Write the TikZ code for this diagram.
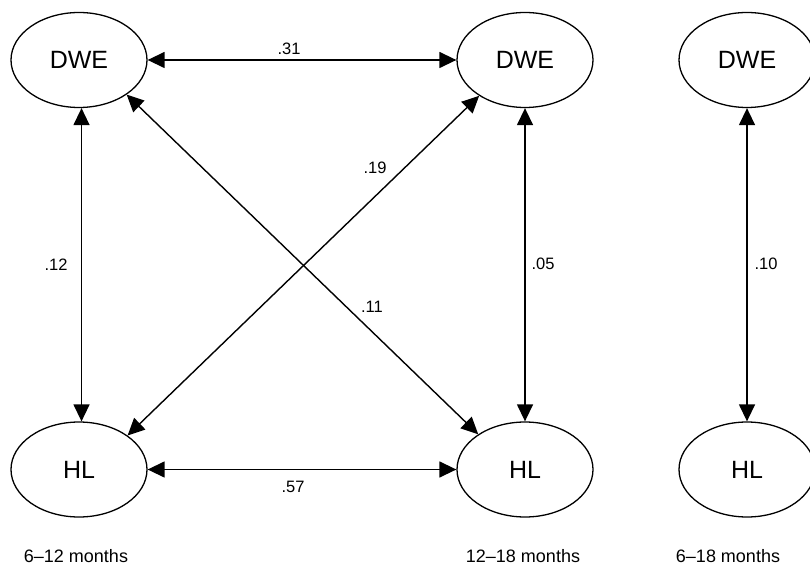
\documentclass[tikz,border=0pt]{standalone}
\usepackage{fontspec}
\setmainfont{Liberation Sans}
\usetikzlibrary{shapes.geometric,arrows.meta}
\begin{document}
\begin{tikzpicture}[x=1pt,y=1pt,
  var/.style={draw,ellipse,line width=1.3pt,minimum width=136pt,minimum height=95pt,inner sep=0pt,font=\fontsize{25}{25}\selectfont},
  link/.style={line width=1.4pt,{Triangle[length=17pt,width=16pt]}-{Triangle[length=17pt,width=16pt]}},
  lab/.style={font=\fontsize{16.5}{16.5}\selectfont,inner sep=0pt},
  period/.style={font=\fontsize{18}{18}\selectfont,inner sep=0pt}]
\useasboundingbox (0,0) rectangle (810,565);
\node[var] (dwe1) at (79,505) {DWE};
\node[var] (dwe2) at (525,505) {DWE};
\node[var] (dwe3) at (747,505) {DWE};
\node[var] (hl1) at (79,95.5) {HL};
\node[var] (hl2) at (525,95.5) {HL};
\node[var] (hl3) at (747,95.5) {HL};
\draw[link] (dwe1) -- (dwe2);
\draw[link] (hl1) -- (hl2);
\draw[link] (dwe1.-87) -- (hl1.87);
\draw[link] (dwe2) -- (hl2);
\draw[link] (dwe3) -- (hl3);
\draw[link] (dwe1.-36) -- (hl2.143);
\draw[link] (hl1.35) -- (dwe2.-142);
\node[lab] (l31) at (289,516) {.31};
\node[lab] (l57) at (293,78) {.57};
\node[lab] (l12) at (56,300) {.12};
\node[lab] (l05) at (543,301) {.05};
\node[lab] (l10) at (766,301) {.10};
\node[lab] (l11) at (372,258) {.11};
\node[lab] (l19) at (375,397) {.19};
\node[period] (c1) at (76,9) {6--12 months};
\node[period] (c2) at (523,9) {12--18 months};
\node[period] (c3) at (728,9) {6--18 months};
\end{tikzpicture}
\end{document}
